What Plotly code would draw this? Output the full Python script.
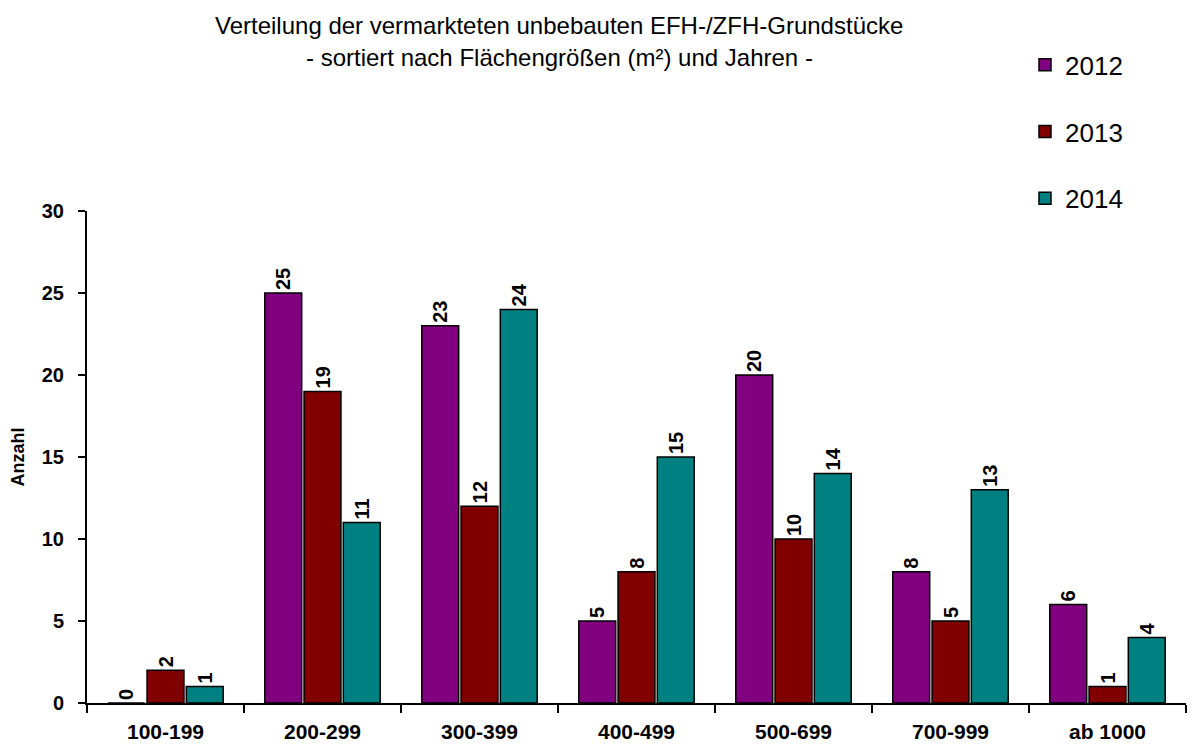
import plotly.graph_objects as go

categories = ["100-199", "200-299", "300-399", "400-499", "500-699", "700-999", "ab 1000"]
years = ["2012", "2013", "2014"]
v2012 = [0, 25, 23, 5, 20, 8, 6]
v2013 = [2, 19, 12, 8, 10, 5, 1]
v2014 = [1, 11, 24, 15, 14, 13, 4]
colors = ["#800080", "#800000", "#008080"]
title_lines = ["Verteilung der vermarkteten unbebauten EFH-/ZFH-Grundstücke",
               "- sortiert nach Flächengrößen (m²) und Jahren -"]

FONT = "Arial, Liberation Sans, sans-serif"

fig = go.Figure()
for name, vals, col in zip(years, [v2012, v2013, v2014], colors):
    fig.add_trace(go.Bar(
        x=categories, y=vals, name=name, legendgroup=name,
        marker=dict(color=col, line=dict(color="black", width=1.5)),
        text=[str(v) for v in vals], textposition="outside", textangle=-90,
        textfont=dict(family=FONT, size=20, color="black", weight="bold"),
        constraintext="none", cliponaxis=False,
    ))

# page has 8px body margin: figure is offset by 8px
fig.update_layout(
    width=1181, height=739,
    paper_bgcolor="white", plot_bgcolor="white",
    margin=dict(l=79, r=3, t=203, b=44, autoexpand=False),
    barmode="group", bargap=0.25, bargroupgap=0.06,
    font=dict(family=FONT, color="black"),
    showlegend=True,
    legend=dict(
        x=0.8535, xanchor="left", y=1.345, yanchor="top",
        font=dict(family=FONT, size=26, color="black"),
        tracegroupgap=30, bgcolor="rgba(0,0,0,0)",
        itemwidth=30,
    ),
    xaxis=dict(
        showline=True, linecolor="black", linewidth=2,
        ticks="outside", tickson="boundaries", ticklen=8, tickwidth=2, tickcolor="black",
        tickfont=dict(family=FONT, size=21, color="black", weight="bold"),
        ticklabelstandoff=9,
        showgrid=False, automargin=False,
    ),
    yaxis=dict(
        range=[0, 30], dtick=5,
        showline=True, linecolor="black", linewidth=2,
        ticks="outside", ticklen=7, tickwidth=2, tickcolor="black",
        tickfont=dict(family=FONT, size=20, color="black", weight="bold"),
        ticklabelstandoff=10,
        showgrid=False, zeroline=False, automargin=False,
        title=dict(text="Anzahl", font=dict(family=FONT, size=18, color="black", weight="bold"), standoff=22),
    ),
)

fig.add_annotation(
    text=title_lines[0], xref="paper", yref="paper", x=0.4295, y=1.408,
    xanchor="center", yanchor="top", showarrow=False,
    font=dict(family=FONT, size=24, color="black"),
)
fig.add_annotation(
    text=title_lines[1], xref="paper", yref="paper", x=0.4295, y=1.313,
    xanchor="center", yanchor="middle", showarrow=False,
    font=dict(family=FONT, size=24, color="black"),
)

fig.write_html("out.html")
